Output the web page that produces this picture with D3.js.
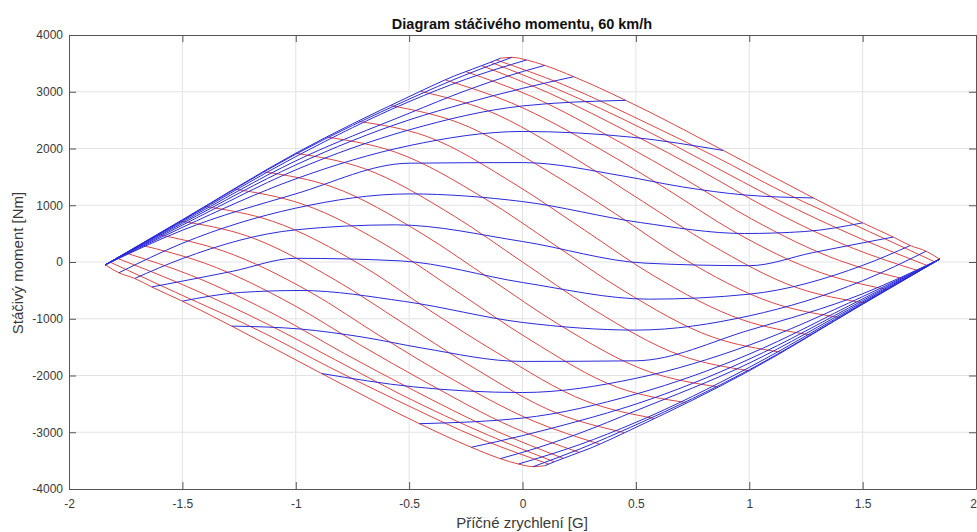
<!DOCTYPE html>
<html>
<head>
<meta charset="utf-8">
<script src="https://cdn.jsdelivr.net/npm/d3@7"></script>
<style>
    body { margin: 0; background: #ffffff; }
    #chart-area { width: 977px; height: 532px; }
    text { font-family: "Liberation Sans", Arial, sans-serif; }
</style>
</head>
<body>
<div id="chart-area"></div>
<script>

// axis ticks
const xTicks = [-2, -1.5, -1, -0.5, 0, 0.5, 1, 1.5, 2];
const yTicks = [-4000, -3000, -2000, -1000, 0, 1000, 2000, 3000, 4000];

// constant steering angle lines (blue), points are [lateral acc G, yaw moment Nm]
const steer01 = [[-1.84,-50],[-1.5,745],[-1.0,1917],[-0.5,2914],[-0.3,3280],[-0.14,3520],[-0.098,3590]];
const steer02 = [[-1.84,-50],[-1.5,738],[-1.0,1900],[-0.5,2870],[-0.25,3300],[-0.047,3606]];
const steer03 = [[-1.84,-50],[-1.5,725],[-1.0,1857],[-0.5,2826],[-0.25,3220],[0.018,3560]];
const steer04 = [[-1.84,-50],[-1.5,705],[-1.0,1782],[-0.5,2621],[-0.25,3020],[0,3355],[0.098,3465]];
const steer05 = [[-1.84,-50],[-1.5,680],[-1.0,1711],[-0.5,2504],[-0.25,2800],[0,3060],[0.226,3265]];
const steer06 = [[-1.84,-50],[-1.5,650],[-1.0,1623],[-0.5,2328],[0,2750],[0.455,2849]];
const steer07 = [[-1.84,-50],[-1.5,610],[-1.0,1465],[-0.5,2050],[0,2300],[0.48,2200],[0.886,1965]];
const steer08 = [[-1.84,-50],[-1.5,560],[-1.0,1201],[-0.5,1741],[0,1752],[0.443,1516],[0.707,1322],[0.98,1181],[1.283,1129]];
const steer09 = [[-1.78,-190],[-1.5,330],[-1.0,949],[-0.5,1200],[0,1065],[0.52,695],[0.98,502],[1.245,537],[1.5,690]];
const steer10 = [[-1.71,-290],[-1.5,60],[-1.0,567],[-0.56,655],[0,361],[0.54,-20],[1.0,-65],[1.28,165],[1.635,440]];
const steer11 = [[-1.635,-440],[-1.28,-165],[-1.0,65],[-0.54,20],[0,-361],[0.56,-655],[1.0,-567],[1.5,-60],[1.71,290]];
const steer12 = [[-1.5,-690],[-1.245,-537],[-0.98,-502],[-0.52,-695],[0,-1065],[0.5,-1200],[1.0,-949],[1.5,-330],[1.78,190]];
const steer13 = [[-1.283,-1129],[-0.98,-1181],[-0.707,-1322],[-0.443,-1516],[0,-1752],[0.5,-1741],[1.0,-1201],[1.5,-560],[1.84,50]];
const steer14 = [[-0.886,-1965],[-0.48,-2200],[0,-2300],[0.5,-2050],[1.0,-1465],[1.5,-610],[1.84,50]];
const steer15 = [[-0.455,-2849],[0,-2750],[0.5,-2328],[1.0,-1623],[1.5,-650],[1.84,50]];
const steer16 = [[-0.226,-3265],[0,-3060],[0.25,-2800],[0.5,-2504],[1.0,-1711],[1.5,-680],[1.84,50]];
const steer17 = [[-0.098,-3465],[0,-3355],[0.25,-3020],[0.5,-2621],[1.0,-1782],[1.5,-705],[1.84,50]];
const steer18 = [[-0.018,-3560],[0.25,-3220],[0.5,-2826],[1.0,-1857],[1.5,-725],[1.84,50]];
const steer19 = [[0.047,-3606],[0.25,-3300],[0.5,-2870],[1.0,-1900],[1.5,-738],[1.84,50]];
const steer20 = [[0.098,-3590],[0.14,-3520],[0.3,-3280],[0.5,-2914],[1.0,-1917],[1.5,-745],[1.84,50]];

// constant body slip angle lines (red)
const slip00 = [[-1.84,-50],[-1.78,-190],[-1.71,-290],[-1.635,-440],[-1.5,-690],[-1.283,-1129],[-0.886,-1965],[-0.455,-2849],[-0.226,-3265],[-0.098,-3465],[-0.018,-3560],[0.047,-3606],[0.098,-3590]];
const slip01 = [[-1.82,0],[-1.53,-534],[-1.143,-1246],[-0.853,-1851],[-0.562,-2421],[-0.175,-3133],[0.115,-3560]];
const slip02 = [[-1.79,70],[-1.5,-397],[-1.115,-1115],[-0.825,-1725],[-0.536,-2335],[-0.15,-3053],[0.14,-3520]];
const slip03 = [[-1.75,160],[-1.46,-238],[-1.075,-962],[-0.785,-1614],[-0.496,-2229],[-0.11,-2989],[0.18,-3460]];
const slip04 = [[-1.69,305],[-1.399,-24],[-1.011,-756],[-0.72,-1452],[-0.429,-2111],[-0.041,-2916],[0.25,-3355]];
const slip05 = [[-1.61,487],[-1.318,191],[-0.928,-548],[-0.635,-1287],[-0.343,-1989],[0.048,-2802],[0.34,-3208]];
const slip06 = [[-1.51,722],[-1.216,461],[-0.824,-322],[-0.53,-1068],[-0.236,-1814],[0.156,-2671],[0.45,-3007]];
const slip07 = [[-1.4,980],[-1.103,719],[-0.707,-66],[-0.41,-850],[-0.113,-1597],[0.283,-2456],[0.58,-2755]];
const slip08 = [[-1.27,1285],[-0.972,1022],[-0.574,232],[-0.275,-558],[0.024,-1348],[0.422,-2213],[0.72,-2476]];
const slip09 = [[-1.14,1590],[-0.84,1325],[-0.44,491],[-0.14,-305],[0.16,-1101],[0.56,-1935],[0.86,-2200]];
const slip10 = [[-1.0,1917],[-0.7,1649],[-0.3,805],[0,0],[0.3,-805],[0.7,-1649],[1.0,-1917]];
const slip11 = [[-0.86,2200],[-0.56,1935],[-0.16,1101],[0.14,305],[0.44,-491],[0.84,-1325],[1.14,-1590]];
const slip12 = [[-0.72,2476],[-0.422,2213],[-0.024,1348],[0.275,558],[0.574,-232],[0.972,-1022],[1.27,-1285]];
const slip13 = [[-0.58,2755],[-0.283,2456],[0.113,1597],[0.41,850],[0.707,66],[1.103,-719],[1.4,-980]];
const slip14 = [[-0.45,3007],[-0.156,2671],[0.236,1814],[0.53,1068],[0.824,322],[1.216,-461],[1.51,-722]];
const slip15 = [[-0.34,3208],[-0.048,2802],[0.343,1989],[0.635,1287],[0.928,548],[1.318,-191],[1.61,-487]];
const slip16 = [[-0.25,3355],[0.041,2916],[0.429,2111],[0.72,1452],[1.011,756],[1.399,24],[1.69,-305]];
const slip17 = [[-0.18,3460],[0.11,2989],[0.496,2229],[0.785,1614],[1.075,962],[1.46,238],[1.75,-160]];
const slip18 = [[-0.14,3520],[0.15,3053],[0.536,2335],[0.825,1725],[1.115,1115],[1.5,397],[1.79,-70]];
const slip19 = [[-0.115,3560],[0.175,3133],[0.562,2421],[0.853,1851],[1.143,1246],[1.53,534],[1.82,0]];
const slip20 = [[-0.098,3590],[-0.047,3606],[0.018,3560],[0.098,3465],[0.226,3265],[0.455,2849],[0.886,1965],[1.283,1129],[1.5,690],[1.635,440],[1.71,290],[1.78,190],[1.84,50]];

const steerLines = [steer01, steer02, steer03, steer04, steer05, steer06, steer07, steer08, steer09, steer10,
    steer11, steer12, steer13, steer14, steer15, steer16, steer17, steer18, steer19, steer20];
const slipLines = [slip00, slip01, slip02, slip03, slip04, slip05, slip06, slip07, slip08, slip09, slip10,
    slip11, slip12, slip13, slip14, slip15, slip16, slip17, slip18, slip19, slip20];


class YawMomentDiagram {
    constructor(parentElement, steerLines, slipLines) {
        this.parentElement = parentElement;
        this.steerLines = steerLines;
        this.slipLines = slipLines;
        this.initVis();
    }

    initVis() {
        let vis = this;

        vis.margin = {top: 35, right: 1, bottom: 43, left: 69};
        vis.width = 977 - vis.margin.left - vis.margin.right;
        vis.height = 532 - vis.margin.top - vis.margin.bottom;

        vis.root = d3.select("#" + vis.parentElement).append("svg")
            .attr("width", 977)
            .attr("height", 532);

        vis.svg = vis.root.append("g")
            .attr("transform", "translate(" + vis.margin.left + "," + vis.margin.top + ")");

        vis.x = d3.scaleLinear().domain([-2, 2]).range([0, vis.width]);
        vis.y = d3.scaleLinear().domain([-4000, 4000]).range([vis.height, 0]);

        // grid lines
        vis.svg.selectAll(".grid-x")
            .data(xTicks.slice(1, -1))
            .enter()
            .append("line")
            .attr("class", "grid-x")
            .attr("x1", d => vis.x(d)).attr("x2", d => vis.x(d))
            .attr("y1", 0).attr("y2", vis.height)
            .attr("stroke", "#e3e3e3")
            .attr("stroke-width", 1);

        vis.svg.selectAll(".grid-y")
            .data(yTicks.slice(1, -1))
            .enter()
            .append("line")
            .attr("class", "grid-y")
            .attr("x1", 0).attr("x2", vis.width)
            .attr("y1", d => vis.y(d)).attr("y2", d => vis.y(d))
            .attr("stroke", "#e3e3e3")
            .attr("stroke-width", 1);

        vis.line = d3.line()
            .x(d => vis.x(d[0]))
            .y(d => vis.y(d[1]))
            .curve(d3.curveMonotoneX);

        // red first, blue on top
        vis.svg.selectAll(".slip-line")
            .data(vis.slipLines)
            .enter()
            .append("path")
            .attr("class", "slip-line")
            .attr("d", vis.line)
            .attr("fill", "none")
            .attr("stroke", "#dc4646")
            .attr("stroke-width", 1);

        vis.svg.selectAll(".steer-line")
            .data(vis.steerLines)
            .enter()
            .append("path")
            .attr("class", "steer-line")
            .attr("d", vis.line)
            .attr("fill", "none")
            .attr("stroke", "#2a2ad8")
            .attr("stroke-width", 1);

        // axes, ticks pointing inwards like matlab
        let fmt = d => String(d);

        vis.xAxis = vis.svg.append("g")
            .attr("class", "axis")
            .attr("transform", "translate(0," + vis.height + ")")
            .call(d3.axisBottom(vis.x).tickValues(xTicks).tickSizeInner(-7).tickSizeOuter(0).tickPadding(10).tickFormat(fmt));

        // last label sits on the page edge, keep it inside
        vis.xAxis.selectAll(".tick text")
            .filter(d => d === 2)
            .attr("text-anchor", "end")
            .attr("x", 0.5);

        vis.svg.append("g")
            .attr("class", "axis")
            .call(d3.axisLeft(vis.y).tickValues(yTicks).tickSizeInner(-7).tickSizeOuter(0).tickPadding(6).tickFormat(fmt));

        vis.svg.append("g")
            .attr("class", "axis")
            .call(d3.axisTop(vis.x).tickValues(xTicks).tickSizeInner(-7).tickSizeOuter(0).tickFormat(""));

        vis.svg.append("g")
            .attr("class", "axis")
            .attr("transform", "translate(" + vis.width + ",0)")
            .call(d3.axisRight(vis.y).tickValues(yTicks).tickSizeInner(-7).tickSizeOuter(0).tickFormat(""));

        vis.svg.selectAll(".axis path, .axis line")
            .attr("stroke", "#555555")
            .attr("stroke-width", 1);

        vis.svg.selectAll(".axis text")
            .attr("fill", "#3a3a3a")
            .style("font-size", "12px");

        // title and labels
        vis.root.append("text")
            .attr("x", 522)
            .attr("y", 29)
            .attr("text-anchor", "middle")
            .attr("fill", "#111111")
            .style("font-size", "14.5px")
            .style("font-weight", "bold")
            .text("Diagram stáčivého momentu, 60 km/h");

        vis.root.append("text")
            .attr("x", 522)
            .attr("y", 528)
            .attr("text-anchor", "middle")
            .attr("fill", "#3a3a3a")
            .style("font-size", "15px")
            .text("Příčné zrychlení [G]");

        vis.root.append("text")
            .attr("transform", "translate(23,263) rotate(-90)")
            .attr("text-anchor", "middle")
            .attr("fill", "#3a3a3a")
            .style("font-size", "15px")
            .text("Stáčivý moment [Nm]");
    }
}

let myDiagram = new YawMomentDiagram("chart-area", steerLines, slipLines);

</script>
</body>
</html>
